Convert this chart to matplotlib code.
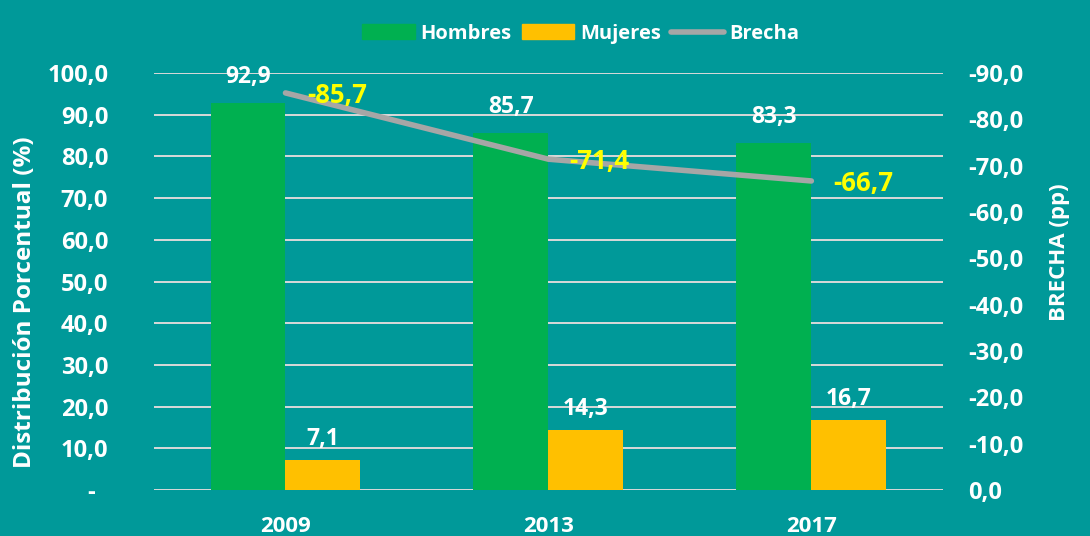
import numpy as np
import matplotlib
matplotlib.use("Agg")
import matplotlib.pyplot as plt
from matplotlib.lines import Line2D
from matplotlib.patches import Patch

plt.rcParams["font.family"] = ["Open Sans", "DejaVu Sans"]
plt.rcParams["font.weight"] = "bold"

BG     = "#009999"
GREEN  = "#00B050"
YELLOW = "#FFC000"
GRAY   = "#A6A6A6"
LABEL_YELLOW = "#FFFF00"

years   = ["2009", "2013", "2017"]
hombres = [92.9, 85.7, 83.3]
mujeres = [7.1, 14.3, 16.7]
brecha  = [-85.7, -71.4, -66.7]
left_ticks  = [0, 10, 20, 30, 40, 50, 60, 70, 80, 90, 100]
right_ticks = [0, -10, -20, -30, -40, -50, -60, -70, -80, -90]


def fmt(v):
    return f"{v:.1f}".replace(".", ",")


fig = plt.figure(figsize=(10.9, 5.36), dpi=100, facecolor=BG)
ax = fig.add_axes([0.1413, 0.0858, 0.7237, 0.778])
ax.set_facecolor(BG)
ax2 = ax.twinx()

x = np.arange(len(years))
w = 0.285
ax.bar(x - w / 2, hombres, width=w, color=GREEN, zorder=3)
ax.bar(x + w / 2, mujeres, width=w, color=YELLOW, zorder=3)

for xi, v in zip(x, hombres):
    ax.annotate(fmt(v), (xi - w / 2, v), xytext=(0, 10), textcoords="offset points",
                ha="center", va="bottom", color="white", fontsize=16.5, fontweight="bold")
for xi, v in zip(x, mujeres):
    ax.annotate(fmt(v), (xi + w / 2, v), xytext=(0, 7), textcoords="offset points",
                ha="center", va="bottom", color="white", fontsize=16.5, fontweight="bold")

ax.set_xlim(-0.5, 2.5)
ax.set_ylim(0, 100)
ax.set_yticks(left_ticks)
ax.set_yticklabels(["-  "] + [fmt(t) for t in left_ticks[1:]])
ax.set_xticks(x)
ax.set_xticklabels(years)
ax.tick_params(axis="y", length=0, pad=33, colors="white", labelsize=17)
ax.tick_params(axis="x", length=0, pad=19, colors="white", labelsize=16)
ax.grid(axis="y", color="#D9D9D9", linewidth=1.4, zorder=0)
ax.set_axisbelow(True)
for s in ax.spines.values():
    s.set_visible(False)
fig.text(25 / 1090, 0.4366, "Distribución Porcentual (%)", rotation=90,
         ha="center", va="center", color="white", fontsize=17.5, fontweight="bold")

ax2.plot(x, brecha, color=GRAY, linewidth=4, solid_capstyle="round", zorder=4)
ax2.set_ylim(0, -90)
ax2.set_yticks(right_ticks)
ax2.set_yticklabels([fmt(t) for t in right_ticks])
ax2.tick_params(axis="y", length=0, pad=18, colors="white", labelsize=17)
for s in ax2.spines.values():
    s.set_visible(False)
fig.text(1060 / 1090, 0.53, "BRECHA (pp)", rotation=90,
         ha="center", va="center", color="white", fontsize=16, fontweight="bold")

offsets = [(16, -1.5), (15, -1.5), (16, -2)]
for xi, v, off in zip(x, brecha, offsets):
    ax2.annotate(fmt(v), (xi, v), xytext=off, textcoords="offset points",
                 ha="left", va="center", color=LABEL_YELLOW, fontsize=18.5,
                 fontweight="bold", zorder=6)

handles = [Patch(color=GREEN, label="Hombres"),
           Patch(color=YELLOW, label="Mujeres"),
           Line2D([0], [0], color=GRAY, linewidth=4, solid_capstyle="round", label="Brecha")]
leg = fig.legend(handles=handles, loc="center", bbox_to_anchor=(0.533, 0.937), ncol=3,
                 frameon=False, fontsize=14.5, handlelength=2.6, handleheight=0.75,
                 columnspacing=0.5, handletextpad=0.3)
for t in leg.get_texts():
    t.set_color("white")
    t.set_fontweight("bold")

fig.savefig("out.png", dpi=100, facecolor=BG)
